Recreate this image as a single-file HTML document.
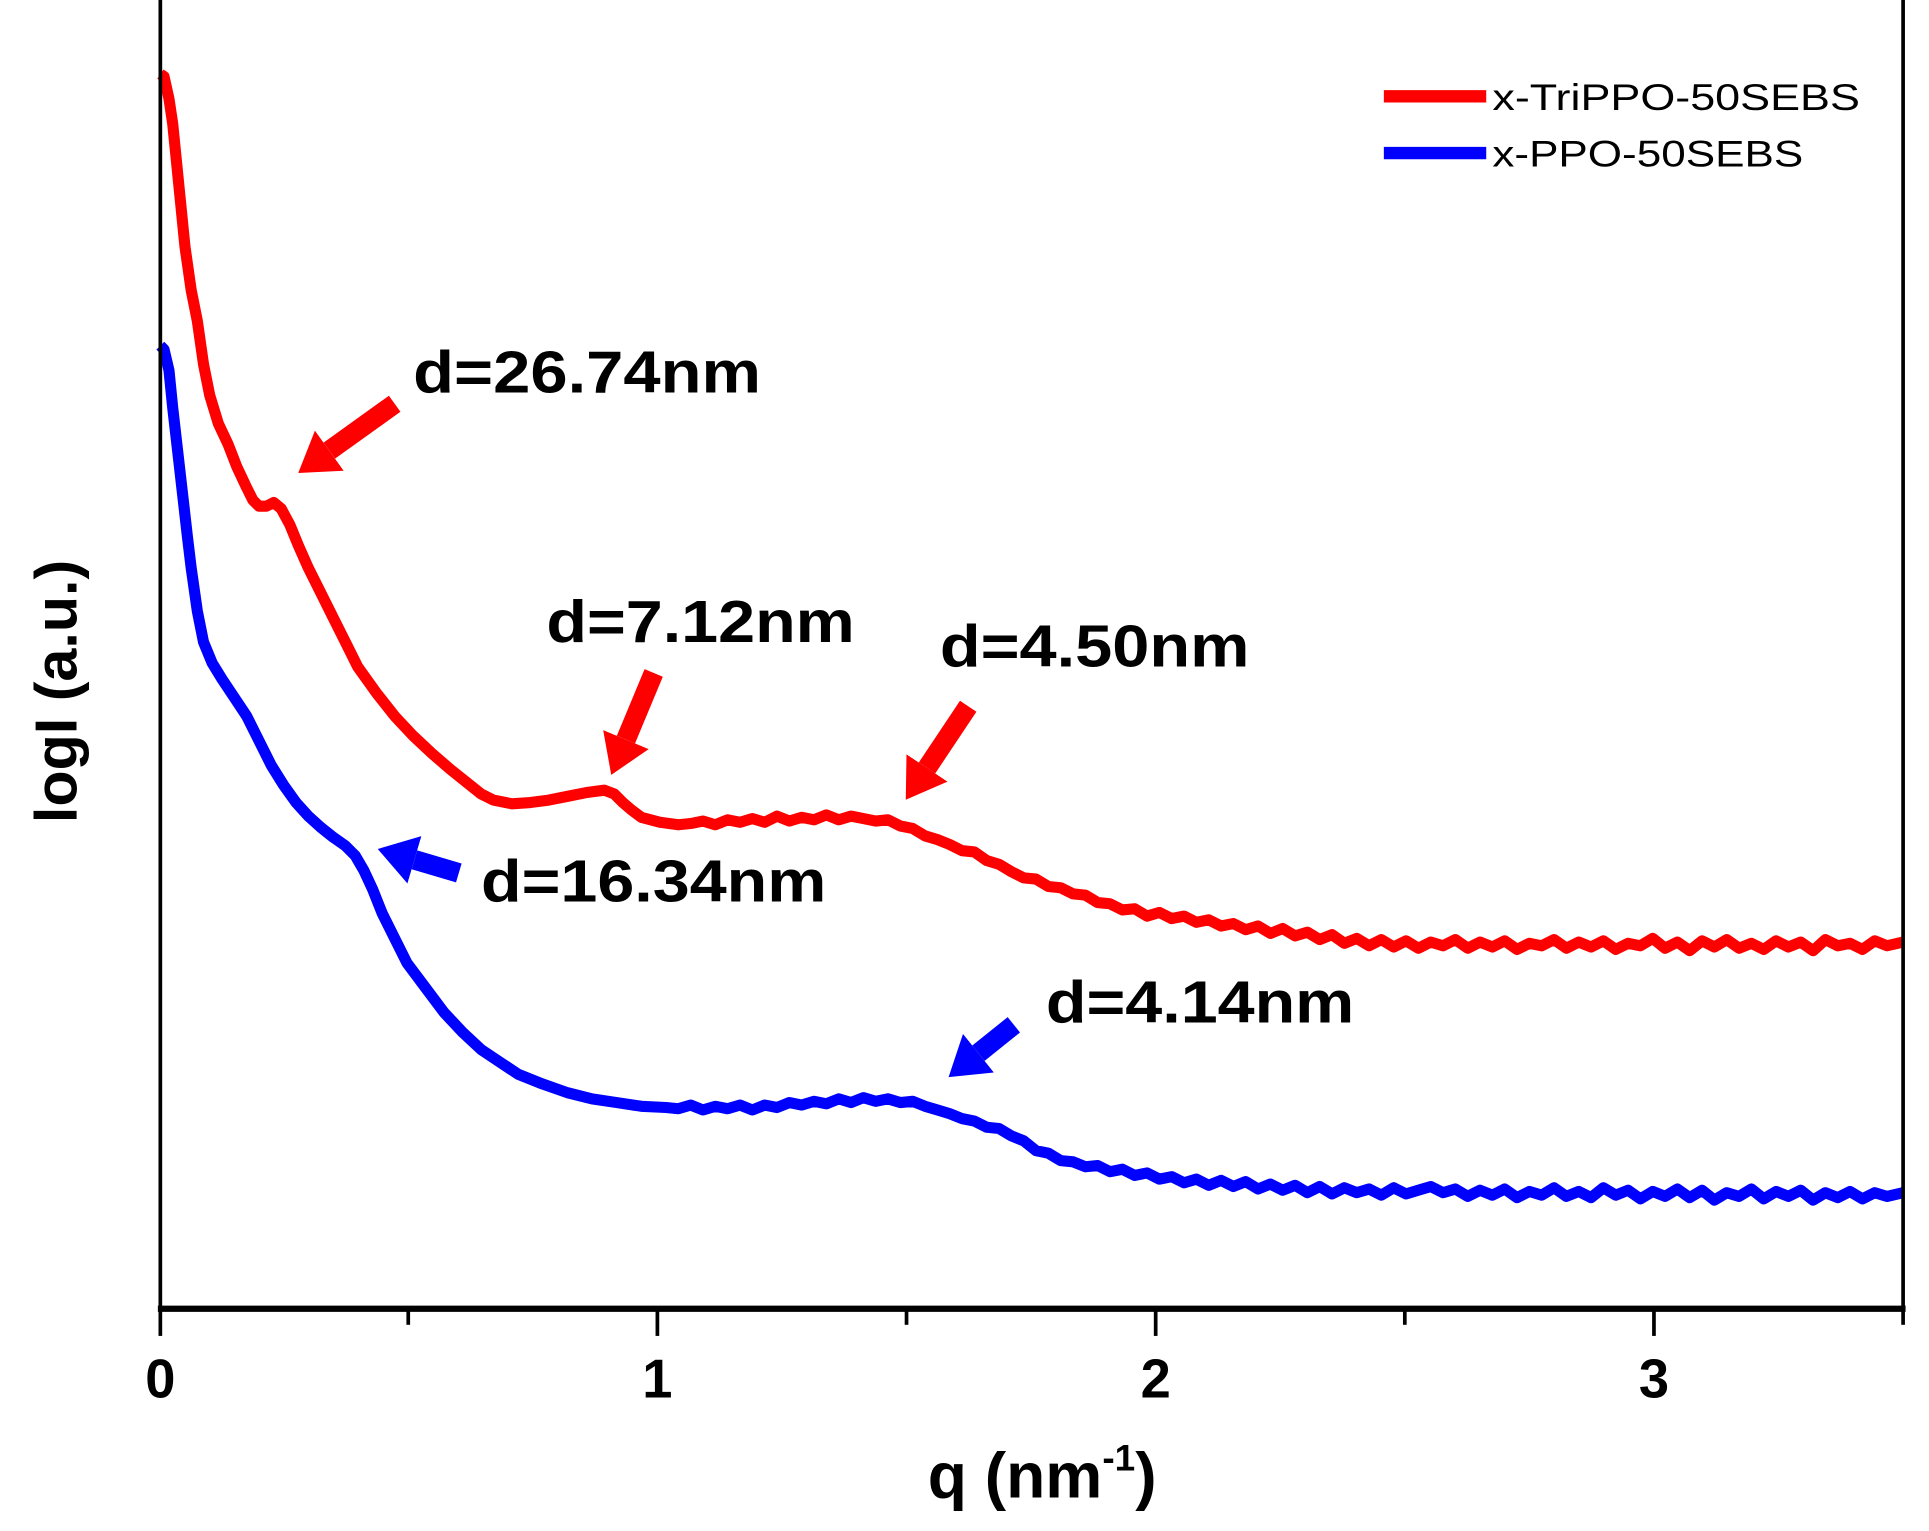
<!DOCTYPE html>
<html><head><meta charset="utf-8"><style>
html,body{margin:0;padding:0;background:#fff;}
svg{display:block;}
text{font-family:"Liberation Sans",Arial,sans-serif;}
</style></head><body>
<svg width="1929" height="1531" viewBox="0 0 1564 1240" preserveAspectRatio="none" xmlns="http://www.w3.org/2000/svg">
<defs>
<marker id="hr" markerUnits="userSpaceOnUse" markerWidth="32" markerHeight="44" refX="0" refY="22" orient="auto"><path d="M0,2 L31,22 L0,42 z" fill="#ff0000"/></marker>
<marker id="hb" markerUnits="userSpaceOnUse" markerWidth="32" markerHeight="44" refX="0" refY="22" orient="auto"><path d="M0,2 L31,22 L0,42 z" fill="#0000ff"/></marker>
</defs>
<rect width="1564" height="1240" fill="#fff"/>
<polyline fill="none" stroke="#ff0000" stroke-width="9" stroke-linejoin="round" points="130,60 133,62 137,80 140,100 145,150 150,200 155,235 160,260 165,295 170,320 177,343 185,360 192,378 200,395 205,405 210,410 216,410 222,407 228,412 235,425 242,442 250,460 260,480 270,500 280,520 290,540 305,561 320,580 335,596 350,610 365,623 380,635 390,643 400,648 415,651 430,650 445,648 460,645 475,642 490,640 498,643 505,650 512,656 520,662 535,666 550,668 560,667 570,665 580,668 590,664 600,666 610,663 620,666 630,661 640,665 650,662 660,664 670,660 680,664 690,661 700,663 710,665 720,664 730,669 740,671 750,677 760,680 770,684 780,689 790,690 800,697 810,700 820,706 830,711 840,712 850,718 860,719 870,724 880,725 890,731 900,732 910,737 920,736 930,742 940,739 950,744 960,742 970,747 980,745 990,750 1000,748 1010,753 1020,750 1030,756 1040,752 1050,758 1060,755 1070,761 1080,757 1090,764 1100,760 1110,766 1120,761 1130,767 1140,762 1150,768 1160,763 1170,766 1180,761 1190,768 1200,763 1210,767 1220,762 1230,769 1240,764 1250,766 1260,761 1270,768 1280,763 1290,767 1300,762 1310,769 1320,764 1330,766 1340,760 1350,768 1360,763 1370,770 1380,762 1390,767 1400,761 1410,768 1420,764 1430,769 1440,762 1450,767 1460,763 1470,770 1480,761 1490,766 1500,764 1510,769 1520,762 1530,766 1543,763"/>
<polyline fill="none" stroke="#0000ff" stroke-width="9" stroke-linejoin="round" points="130,280 133,283 137,300 140,330 144,365 148,400 152,435 155,460 160,495 165,520 172,537 180,550 190,565 200,580 210,600 220,620 230,636 240,650 250,661 260,670 270,678 280,685 288,693 295,705 302,720 310,740 320,760 330,780 345,800 360,820 375,836 390,850 405,860 420,870 440,878 460,885 480,890 500,893 520,896 540,897 550,898 560,895 570,899 580,896 590,898 600,895 610,899 620,895 630,897 640,893 650,895 660,892 670,894 680,890 690,893 700,889 710,892 720,890 730,893 740,892 750,896 760,899 770,902 780,906 790,908 800,913 810,914 820,920 830,924 840,932 850,934 860,940 870,941 880,945 890,944 900,949 910,947 920,952 930,950 940,955 950,953 960,958 970,955 980,960 990,956 1000,961 1010,957 1020,963 1030,959 1040,964 1050,960 1060,966 1070,961 1080,967 1090,962 1100,966 1110,963 1120,968 1130,962 1140,967 1150,964 1160,961 1170,966 1180,963 1190,969 1200,964 1210,968 1220,963 1230,970 1240,965 1250,968 1260,962 1270,969 1280,965 1290,970 1300,962 1310,968 1320,964 1330,971 1340,965 1350,969 1360,963 1370,970 1380,964 1390,972 1400,966 1410,969 1420,963 1430,971 1440,965 1450,969 1460,964 1470,972 1480,966 1490,970 1500,965 1510,971 1520,966 1530,969 1543,966"/>
<!-- axes -->
<line x1="130" y1="0" x2="130" y2="1062" stroke="#000" stroke-width="3"/>
<line x1="1543" y1="0" x2="1543" y2="1062" stroke="#000" stroke-width="3"/>
<line x1="128" y1="1060" x2="1545" y2="1060" stroke="#000" stroke-width="5"/>
<g stroke="#000" stroke-width="3">
<line x1="130" y1="1060" x2="130" y2="1082"/>
<line x1="533" y1="1060" x2="533" y2="1082"/>
<line x1="937" y1="1060" x2="937" y2="1082"/>
<line x1="1341" y1="1060" x2="1341" y2="1082"/>
<line x1="331" y1="1060" x2="331" y2="1073"/>
<line x1="735" y1="1060" x2="735" y2="1073"/>
<line x1="1139" y1="1060" x2="1139" y2="1073"/>
<line x1="1543" y1="1060" x2="1543" y2="1073"/>
</g>
<g font-size="44" font-weight="bold" text-anchor="middle">
<text x="130" y="1132">0</text><text x="533" y="1132">1</text><text x="937" y="1132">2</text><text x="1341" y="1132">3</text>
</g>
<text x="845" y="1213" font-size="52" font-weight="bold" text-anchor="middle">q (nm<tspan font-size="30" dy="-22">-1</tspan><tspan dy="22">)</tspan></text>
<text transform="translate(62,560) rotate(-90)" font-size="48" font-weight="bold" text-anchor="middle">logI (a.u.)</text>
<!-- legend -->
<line x1="1122" y1="78" x2="1205" y2="78" stroke="#ff0000" stroke-width="10"/>
<line x1="1122" y1="124" x2="1205" y2="124" stroke="#0000ff" stroke-width="10"/>
<text x="1210" y="89" font-size="30" textLength="298" lengthAdjust="spacingAndGlyphs">x-TriPPO-50SEBS</text>
<text x="1210" y="135" font-size="30" textLength="252" lengthAdjust="spacingAndGlyphs">x-PPO-50SEBS</text>
<!-- annotations -->
<g font-size="48" font-weight="bold">
<text x="335" y="318" textLength="282" lengthAdjust="spacingAndGlyphs">d=26.74nm</text>
<text x="443" y="520" textLength="250" lengthAdjust="spacingAndGlyphs">d=7.12nm</text>
<text x="762" y="540" textLength="251" lengthAdjust="spacingAndGlyphs">d=4.50nm</text>
<text x="390" y="730" textLength="280" lengthAdjust="spacingAndGlyphs">d=16.34nm</text>
<text x="848" y="828" textLength="250" lengthAdjust="spacingAndGlyphs">d=4.14nm</text>
</g>
<g stroke-width="16">
<line x1="320" y1="327" x2="267" y2="365" stroke="#ff0000" marker-end="url(#hr)"/>
<line x1="530" y1="545" x2="507.5" y2="599" stroke="#ff0000" marker-end="url(#hr)"/>
<line x1="785" y1="572" x2="751.6" y2="622" stroke="#ff0000" marker-end="url(#hr)"/>
<line x1="372" y1="707" x2="336" y2="696.4" stroke="#0000ff" marker-end="url(#hb)"/>
<line x1="822" y1="830" x2="793.3" y2="853" stroke="#0000ff" marker-end="url(#hb)"/>
</g>
</svg>
</body></html>
